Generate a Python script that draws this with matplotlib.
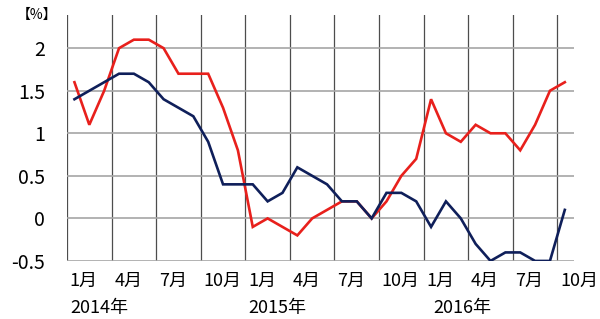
import numpy as np
import matplotlib.pyplot as plt

plt.rcParams['font.family'] = ['Noto Sans CJK JP', 'DejaVu Sans']

# monthly values, Jan 2014 .. Oct 2016
red = [1.6, 1.1, 1.5, 2.0, 2.1, 2.1, 2.0, 1.7, 1.7, 1.7, 1.3, 0.8,
       -0.1, 0.0, -0.1, -0.2, 0.0, 0.1, 0.2, 0.2, 0.0, 0.2, 0.5, 0.7,
       1.4, 1.0, 0.9, 1.1, 1.0, 1.0, 0.8, 1.1, 1.5, 1.6]
navy = [1.4, 1.5, 1.6, 1.7, 1.7, 1.6, 1.4, 1.3, 1.2, 0.9, 0.4, 0.4,
        0.4, 0.2, 0.3, 0.6, 0.5, 0.4, 0.2, 0.2, 0.0, 0.3, 0.3, 0.2,
        -0.1, 0.2, 0.0, -0.3, -0.5, -0.4, -0.4, -0.5, -0.5, 0.1]
month_labels = ['1月', '4月', '7月', '10月'] * 3
year_labels = ['2014年', '2015年', '2016年']
year_pos = [-0.3, 11.72, 24.15]
yticks = [-0.5, 0, 0.5, 1, 1.5, 2]
ytick_labels = ['-0.5', '0', '0.5', '1', '1.5', '2']

x = np.arange(len(red))

fig = plt.figure(figsize=(6.0, 3.19), dpi=100)
ax = fig.add_axes([0.1117, 0.182, 0.8445, 0.771])

# vertical lines at quarter boundaries
for b in np.arange(-0.5, len(red) - 1, 3):
    ax.axvline(b, color='#4d4d4d', lw=0.9, zorder=1)
for yv in yticks:
    ax.axhline(yv, color='#a6a6a6', lw=1.2, zorder=1)

ax.plot(x, red, color='#e8201c', lw=1.9, zorder=3, solid_joinstyle='miter')
ax.plot(x, navy, color='#0f1f5a', lw=1.9, zorder=4, solid_joinstyle='miter')

ax.set_xlim(-0.5, len(red) - 0.4)
ax.set_ylim(-0.5, 2.39)
ax.set_xticks([])
ax.set_yticks(yticks)
ax.set_yticklabels(ytick_labels, fontsize=14)
ax.tick_params(axis='y', length=0, pad=16)
for s in ax.spines.values():
    s.set_visible(False)

tr = ax.get_xaxis_transform()
for i, lab in enumerate(month_labels):
    b = -0.5 + 3 * i
    if b > len(red):
        break
    ax.text(b + 0.18, -0.08, lab, transform=tr, ha='left', va='center',
            fontsize=13, clip_on=False)
for xp, lab in zip(year_pos, year_labels):
    ax.text(xp, -0.19, lab, transform=tr, ha='left', va='center',
            fontsize=13, clip_on=False)

fig.text(0.028, 0.953, '【%】', ha='left', va='center', fontsize=10)

fig.savefig('out.png', dpi=100)
plt.close()
